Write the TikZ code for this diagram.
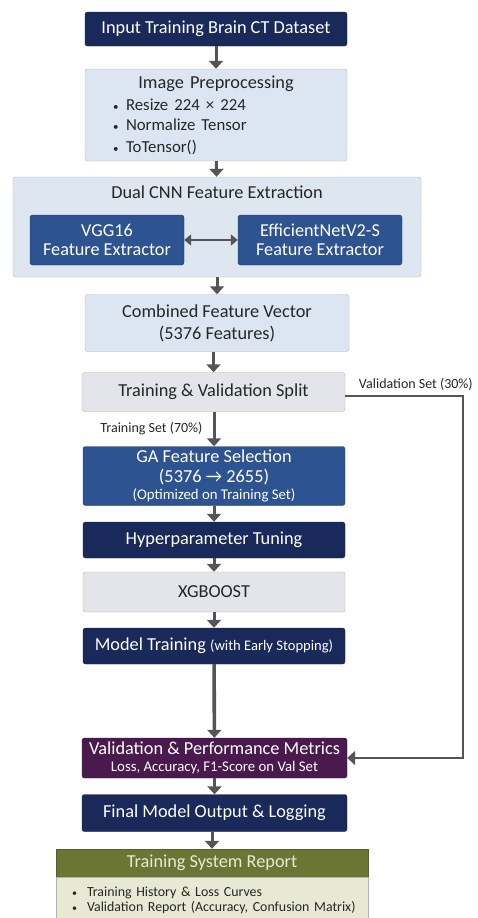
\documentclass[tikz,border=0pt]{standalone}
\usepackage{fontspec}
\setmainfont{Carlito}
\usepackage{xcolor}
\usetikzlibrary{positioning,arrows.meta}

\definecolor{navy}{HTML}{19295A}
\definecolor{midblue}{HTML}{2E5391}
\definecolor{paleblue}{HTML}{DCE6F2}
\definecolor{palegray}{HTML}{E4E5EA}
\definecolor{plum}{HTML}{4A1A4E}
\definecolor{olive}{HTML}{6B7634}
\definecolor{beige}{HTML}{E7E9D4}
\definecolor{wire}{HTML}{555555}

\newcommand{\dotitem}[1]{\makebox[13pt][l]{\fontsize{11}{11}\selectfont\textbullet}#1}
\newcommand{\repitem}[1]{\mbox{\hspace*{12pt}\makebox[15pt][l]{\fontsize{10}{10}\selectfont\textbullet}#1}}

\begin{document}
\begin{tikzpicture}[x=1pt,y=-1pt,
    base/.style={rounded corners=2.5pt,minimum width=262pt,align=center,inner sep=1.5pt,font=\fontsize{18.3}{20}\selectfont},
    navybox/.style={base,fill=navy,draw=navy!70!black,text=white},
    bluebox/.style={base,fill=midblue,draw=midblue!70!black,text=white},
    plumbox/.style={base,fill=plum,draw=plum!70!black,text=white},
    lightbox/.style={base,fill=paleblue,draw=gray!60,text=black!85},
    graybox/.style={base,fill=palegray,draw=gray!60,text=black!85},
    flow/.style={draw=wire,line width=3pt,-{Triangle[length=8pt,width=14pt]}},
    tag/.style={font=\fontsize{14}{15}\selectfont,text=black!85,inner sep=1pt}]

\useasboundingbox (0,0) rectangle (477,918);

% main column
\node[navybox,minimum height=34pt] (input) at (216,29) {Input Training Brain CT Dataset};
\node[lightbox,minimum height=92pt,text width=240pt,align=left,font=\fontsize{18.3}{22}\selectfont] (prep) at (216,115)
  {{\centering Image Preprocessing\par}\vspace{2pt}
   \fontsize{16.8}{20}\selectfont
   \hspace*{17pt}\dotitem{Resize 224 × 224}\\
   \hspace*{17pt}\dotitem{Normalize Tensor}\\
   \hspace*{17pt}\dotitem{ToTensor()}};

% feature extractors
\node[graybox,minimum width=408pt,minimum height=100pt,fill=paleblue!70!palegray,
      label={[anchor=north,yshift=-5pt,font=\fontsize{18.3}{20}\selectfont,text=black!85]north:Dual CNN Feature Extraction}] (dual) at (217,227) {};
\node[bluebox,minimum width=154pt,minimum height=50pt,font=\fontsize{18.2}{19}\selectfont] (vgg) at (107,240) {VGG16\\Feature Extractor};
\node[bluebox,minimum width=164pt,minimum height=50pt,font=\fontsize{18.2}{19}\selectfont] (eff) at (320,240) {EfficientNetV2-S\\Feature Extractor};

\node[lightbox,minimum width=264pt,minimum height=57pt,font=\fontsize{18.3}{22}\selectfont] (comb) at (217,323) {Combined Feature Vector\\(5376 Features)};
\node[graybox,minimum width=263pt,minimum height=39pt] (split) at (213.5,392) {Training \& Validation Split};

\node[bluebox,minimum height=59pt,inner sep=0pt,font=\fontsize{18.3}{19.5}\selectfont] (ga) at (214,476)
  {GA Feature Selection\\(5376 → 2655)\\[-2pt]{\fontsize{14.8}{15}\selectfont(Optimized on Training Set)}};
\node[navybox,minimum height=36pt] (hyper) at (214,540) {Hyperparameter Tuning};
\node[graybox,minimum height=40pt] (xgb) at (214,592) {XGBOOST};
\node[navybox,minimum height=36pt] (train) at (214,646) {Model Training {\fontsize{14.6}{16}\selectfont(with Early Stopping)}};

\node[plumbox,minimum width=265pt,minimum height=40pt,inner sep=0pt,font=\fontsize{18.3}{18}\selectfont] (valid) at (214.5,758)
  {Validation \& Performance Metrics\\[-1pt]{\fontsize{14.8}{15}\selectfont Loss, Accuracy, F1-Score on Val Set}};
\node[navybox,minimum width=265pt,minimum height=37pt] (final) at (214.5,813) {Final Model Output \& Logging};

% report
\node[base,fill=olive,draw=olive!80!black,text=beige,minimum width=312pt,minimum height=28pt,
      rounded corners=0pt] (rephead) at (212,863) {Training System Report};
\node[base,fill=beige,draw=gray!60,minimum width=312pt,minimum height=46pt,rounded corners=0pt,
      text width=304pt,align=left,font=\fontsize{13.9}{14.5}\selectfont,text=black!85,anchor=north] (repbody) at (rephead.south)
  {\repitem{Training History \& Loss Curves}\\
   \repitem{Validation Report (Accuracy, Confusion Matrix)}};

% connectors
\draw[flow] (input) -- (prep);
\draw[flow] (prep) -- (dual);
\draw[draw=wire,line width=2.4pt,{Triangle[length=7pt,width=11pt]}-{Triangle[length=7pt,width=11pt]}] (vgg) -- (eff);
\draw[flow] (dual.south -| comb) -- (comb);
\draw[flow] (comb.south -| split) -- (split);
\draw[flow] (split.south -| ga) -- node[tag,left=9pt,pos=0.5] {Training Set (70\%)} (ga);
\draw[flow] (ga) -- (hyper);
\draw[flow] (hyper) -- (xgb);
\draw[flow] (xgb) -- (train);
\draw[flow,line width=3.6pt] (train) -- (valid);
\draw[flow] (valid) -- (final);
\draw[flow] (final.south -| rephead) -- (rephead);

\coordinate (side) at (463,396);
\draw[flow,line width=2.6pt] (split.east |- side) -- node[tag,above=3pt,pos=0.6] {Validation Set (30\%)} (side) |- (valid.east);
\end{tikzpicture}
\end{document}
